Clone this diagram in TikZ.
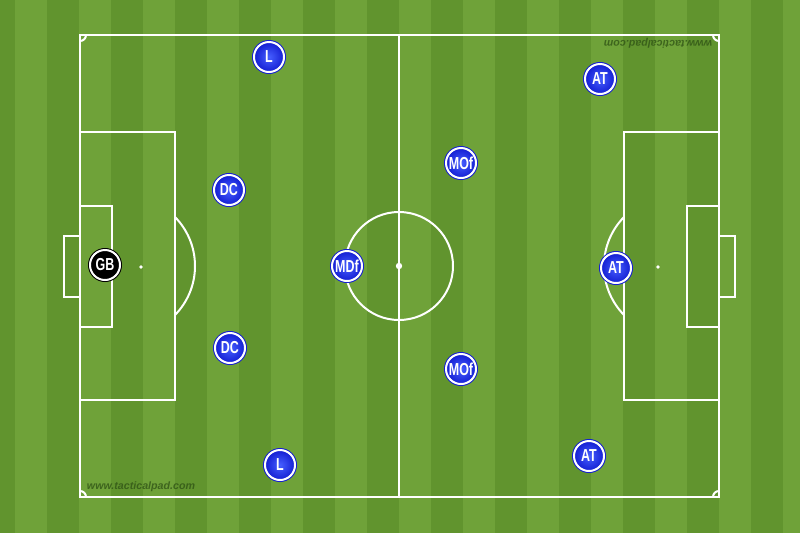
\documentclass[tikz,border=0pt]{standalone}
\usepackage{fontspec}
\setmainfont{Liberation Sans}
\definecolor{grassD}{RGB}{97,148,46}
\definecolor{grassL}{RGB}{111,162,57}
\definecolor{pblue}{RGB}{20,30,210}
\definecolor{pblueL}{RGB}{70,95,255}
\definecolor{wmark}{RGB}{45,80,20}
\tikzset{
  pline/.style={draw=white, line width=1.5pt},
  player/.style={circle, minimum size=22.5pt, inner sep=0pt,
    inner color=pblueL, outer color=pblue,
    preaction={draw=pblue, line width=3pt},
    draw=white, line width=1.5pt, text=white,
    font=\fontsize{13}{13}\selectfont\bfseries},
  keeper/.style={circle, minimum size=22.5pt, inner sep=0pt, fill=black,
    preaction={draw=black, line width=3pt},
    draw=white, line width=1.5pt, text=white,
    font=\fontsize{13}{13}\selectfont\bfseries},
  wm/.style={text=wmark, opacity=0.75, inner sep=0pt,
    font=\fontsize{8}{8}\selectfont\bfseries\itshape}
}
\newcommand{\nar}[1]{\scalebox{0.72}[1]{#1}}
\begin{document}
\begin{tikzpicture}[x=0.75pt,y=-0.75pt]
\useasboundingbox (0,0) rectangle (800,533);
\begin{scope}
\clip (0,0) rectangle (800,533);
\fill[grassL] (0,0) rectangle (800,533);
\foreach \k in {-1,...,11} { \fill[grassD] ({47+64*\k},0) rectangle ({79+64*\k},533); }
\end{scope}
% pitch outline and halfway line
\draw[pline] (80,35) rectangle (719,497);
\draw[pline] (399,35) -- (399,497);
\draw[pline] (399,266) circle[radius=54];
\fill[white] (399,266) circle[radius=3.2];
% corner arcs
\begin{scope}
\clip (80,35) rectangle (719,497);
\foreach \cx/\cy in {80/35,719/35,80/497,719/497} { \draw[pline] (\cx,\cy) circle[radius=6]; }
\end{scope}
% left side
\draw[pline] (80,132) rectangle (175,400);
\draw[pline] (80,206) rectangle (112,327);
\draw[pline] (80,236) -- (64,236) -- (64,297) -- (80,297);
\fill[white] (141,267) circle[radius=1.8];
\begin{scope}
\clip (175,100) rectangle (260,430);
\draw[pline] (125,266) circle[radius=70];
\end{scope}
% right side
\draw[pline] (624,132) rectangle (719,400);
\draw[pline] (687,206) rectangle (719,327);
\draw[pline] (719,236) -- (735,236) -- (735,297) -- (719,297);
\fill[white] (658,267) circle[radius=1.8];
\begin{scope}
\clip (540,100) rectangle (624,430);
\draw[pline] (674,266) circle[radius=70];
\end{scope}
% watermarks
\node[wm] (wmB) at (141,487) {www.tacticalpad.com};
\node[wm, rotate=180] (wmT) at (658,43) {www.tacticalpad.com};
% players
\node[keeper] (gb) at (105,265) {\nar{GB}};
\node[player] (l1) at (269,57) {\nar{L}};
\node[player] (dc1) at (229,190) {\nar{DC}};
\node[player] (dc2) at (230,348) {\nar{DC}};
\node[player] (l2) at (280,465) {\nar{L}};
\node[player] (mdf) at (347,266) {\nar{MDf}};
\node[player] (mof1) at (461,163) {\nar{MOf}};
\node[player] (mof2) at (461,369) {\nar{MOf}};
\node[player] (at1) at (600,79) {\nar{AT}};
\node[player] (at2) at (616,268) {\nar{AT}};
\node[player] (at3) at (589,456) {\nar{AT}};
\end{tikzpicture}
\end{document}
